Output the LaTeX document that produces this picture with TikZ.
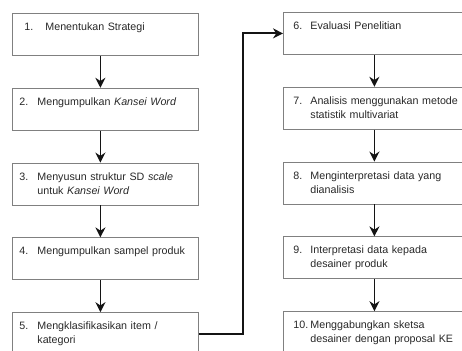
\documentclass[tikz,border=0pt]{standalone}
\usepackage{fontspec}
\setmainfont{Liberation Sans}
\usepackage{tikz}
\usetikzlibrary{arrows.meta, positioning}
\definecolor{boxline}{RGB}{128,128,128}
\definecolor{mydark}{RGB}{20,20,20}
\definecolor{mytext}{RGB}{40,40,40}
% number in a fixed box, the text beside it in a top aligned parbox
\newcommand{\tahap}[3]{\makebox[#2][l]{#1}\parbox[t]{\dimexpr172pt-#2\relax}{\raggedright #3}}
\tikzset{
  kotak/.style={rectangle, draw=boxline, line width=0.8pt,
    text width=172pt, align=left, inner xsep=7pt, inner ysep=4pt,
    text height=13pt, text depth=21pt, text=mytext,
    font=\fontsize{10.7}{14}\selectfont},
  kotakkanan/.style={kotak, inner xsep=10pt},
  arrow/.style={-{Stealth[length=10pt,width=10pt]}, line width=1.8pt, color=mydark},
  line/.style={line width=1.8pt, color=mydark}
}

\begin{document}
\begin{tikzpicture}[x=1pt, y=1pt, node distance=32pt]
  \clip (0,0) rectangle (462,-350);

  % left column
  \node[kotak, anchor=north west] (tahap1) at (12,-13)
    {\tahap{\hspace{5pt}1.}{26pt}{Menentukan Strategi}};
  \node[kotak, below=of tahap1] (tahap2)
    {\tahap{2.}{18pt}{Mengumpulkan \textit{Kansei Word}}};
  \node[kotak, below=of tahap2] (tahap3)
    {\tahap{3.}{18pt}{Menyusun struktur SD \textit{scale}\\ untuk \textit{Kansei Word}}};
  \node[kotak, below=of tahap3] (tahap4)
    {\tahap{4.}{18pt}{Mengumpulkan sampel produk}};
  \node[kotak, below=of tahap4] (tahap5)
    {\tahap{5.}{18pt}{Mengklasifikasikan item /\\ kategori}};

  % right column
  \node[kotakkanan, anchor=north west] (tahap6) at (283,-12)
    {\tahap{6.}{17pt}{Evaluasi Penelitian}};
  \node[kotakkanan, below=of tahap6] (tahap7)
    {\tahap{7.}{17pt}{Analisis menggunakan metode\\ statistik multivariat}};
  \node[kotakkanan, below=of tahap7] (tahap8)
    {\tahap{8.}{17pt}{Menginterpretasi data yang\\ dianalisis}};
  \node[kotakkanan, below=of tahap8] (tahap9)
    {\tahap{9.}{17pt}{Interpretasi data kepada\\ desainer produk}};
  \node[kotakkanan, below=of tahap9] (tahap10)
    {\tahap{10.}{17pt}{Menggabungkan sketsa\\ desainer dengan proposal KE}};

  % arrows
  \foreach \a/\b in {1/2, 2/3, 3/4, 4/5}
    \draw[arrow] ([xshift=-5pt]tahap\a.south) -- ([xshift=-5pt]tahap\b.north);
  \foreach \a/\b in {6/7, 7/8, 8/9, 9/10}
    \draw[arrow] ([xshift=-5pt]tahap\a.south) -- ([xshift=-5pt]tahap\b.north);

  \draw[arrow] (tahap5.east) -- ++(44,0) |- (tahap6.west);
\end{tikzpicture}
\end{document}
